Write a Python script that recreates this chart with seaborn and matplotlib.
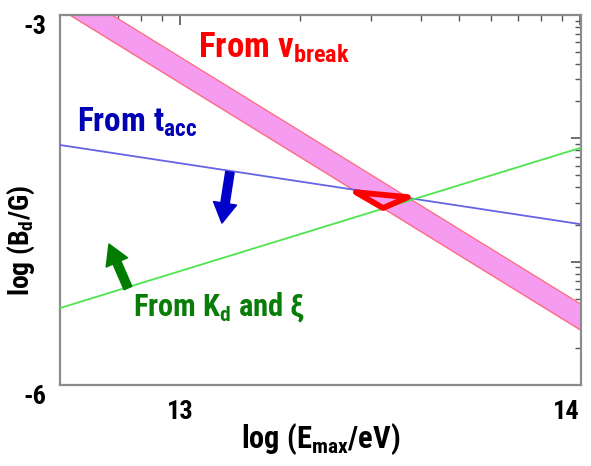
import numpy as np
import matplotlib
matplotlib.use('Agg')
import matplotlib.pyplot as plt
import matplotlib.ticker as mticker
from matplotlib import font_manager
import seaborn as sns

# values (log10 units)
log_emax = [12.7, 14.0]
log_b_tacc = [-4.054, -4.695]      # from t_acc
log_b_kd = [-5.376, -4.079]        # from K_d and xi
log_b_break_hi = [-2.74, -5.34]    # nu_break band, upper edge
log_b_break_lo = [-2.95, -5.55]    # nu_break band, lower edge

# allowed region (red triangle)
tri_log_e = [13.44, 13.57, 13.508]
tri_log_b = [-4.437, -4.477, -4.565]

# arrows: tail -> tip
arrow_tacc = [(13.125, -4.273), (13.105, -4.687)]
arrow_kd = [(12.87, -5.214), (12.8225, -4.857)]

xtick_vals = [13, 14]
ytick_vals = [-6, -5, -4, -3]
ytick_labels = ['-6', '', '', '-3']

# pick a narrow-ish font if one is around
fam = 'DejaVu Sans'
for cand in ['Liberation Sans Narrow', 'DejaVu Sans Condensed', 'Roboto Condensed',
             'Open Sans Condensed', 'Roboto', 'Lato']:
    try:
        font_manager.findfont(font_manager.FontProperties(family=cand, weight='bold'),
                              fallback_to_default=False)
        fam = cand
        break
    except Exception:
        pass

sns.set_style('white')
plt.rcParams['font.family'] = [fam, 'DejaVu Sans']
plt.rcParams['font.weight'] = 'bold'
plt.rcParams['mathtext.fontset'] = 'custom'
plt.rcParams['mathtext.rm'] = fam + ':bold'
plt.rcParams['mathtext.it'] = fam + ':bold'
plt.rcParams['mathtext.bf'] = fam + ':bold'

fig = plt.figure(figsize=(5.91, 4.66), dpi=100)
ax = fig.add_axes([0.1015, 0.1738, 0.8816, 0.794])

E = 10 ** np.array(log_emax)

# nu_break band
ax.fill_between(E, 10 ** np.array(log_b_break_lo), 10 ** np.array(log_b_break_hi),
                color='#f59cf0', zorder=1)
ax.plot(E, 10 ** np.array(log_b_break_hi), color='#ff6a6a', lw=0.8, zorder=2)
ax.plot(E, 10 ** np.array(log_b_break_lo), color='#ff6a6a', lw=0.8, zorder=2)

sns.lineplot(x=E, y=10 ** np.array(log_b_tacc), color='#6464e6', lw=1.3, ax=ax, zorder=3)
sns.lineplot(x=E, y=10 ** np.array(log_b_kd), color='#4ee64e', lw=1.3, ax=ax, zorder=3)

ax.fill(10 ** np.array(tri_log_e), 10 ** np.array(tri_log_b), facecolor='none',
        edgecolor='#ff0000', lw=4.2, joinstyle='round', zorder=4)

for (t, h), col in [(arrow_tacc, '#0000c8'), (arrow_kd, '#007d00')]:
    ax.annotate('', xy=(10 ** h[0], 10 ** h[1]), xytext=(10 ** t[0], 10 ** t[1]),
                arrowprops=dict(arrowstyle='simple,head_length=0.9,head_width=1.05,tail_width=0.38',
                                color=col, mutation_scale=16, shrinkA=0, shrinkB=0),
                zorder=5)

ax.text(10 ** 13.045, 10 ** -3.34, r'From ν$_{\rm break}$', color='#ff0000',
        fontsize=25, ha='left', va='baseline')
ax.text(10 ** 12.7425, 10 ** -3.949, r'From t$_{\rm acc}$', color='#0000b4',
        fontsize=24, ha='left', va='baseline')
ax.text(10 ** 12.8825, 10 ** -5.441, r'From K$_{\rm d}$ and ξ', color='#087d08',
        fontsize=22, ha='left', va='baseline')

ax.set_xscale('log')
ax.set_yscale('log')
ax.set_xlim(10 ** 12.7, 10 ** 14.003)
ax.set_ylim(1e-6, 1e-3)

ax.xaxis.set_major_locator(mticker.FixedLocator([10.0 ** v for v in xtick_vals]))
ax.xaxis.set_major_formatter(mticker.FixedFormatter([str(v) for v in xtick_vals]))
ax.yaxis.set_major_locator(mticker.FixedLocator([10.0 ** v for v in ytick_vals]))
ax.yaxis.set_major_formatter(mticker.FixedFormatter(ytick_labels))
ax.xaxis.set_minor_locator(mticker.LogLocator(base=10, subs=np.arange(2, 10)))
ax.yaxis.set_minor_locator(mticker.LogLocator(base=10, subs=np.arange(2, 10)))
ax.xaxis.set_minor_formatter(mticker.NullFormatter())
ax.yaxis.set_minor_formatter(mticker.NullFormatter())

ax.tick_params(which='both', direction='in', top=True, right=True, color='#555555',
               labelcolor='black')
ax.tick_params(which='major', length=7, width=1.2)
ax.tick_params(which='minor', length=4, width=1.0)
ax.tick_params(axis='x', which='major', pad=11, labelsize=19)
ax.tick_params(axis='y', which='major', pad=10, labelsize=19)
for lab in ax.get_yticklabels():
    lab.set_va('top')
ax.get_xticklabels()[-1].set_ha('right')

for s in ax.spines.values():
    s.set_color('#8c8c8c')
    s.set_linewidth(1.6)

ax.set_xlabel(r'log (E$_{\rm max}$/eV)', fontsize=22, fontweight='bold', color='black',
              va='top')
ax.set_ylabel(r'log (B$_{\rm d}$/G)', fontsize=20, fontweight='bold', color='black')
ax.xaxis.set_label_coords(0.5, -0.1)
ax.yaxis.set_label_coords(-0.045, 0.39)

fig.savefig('out.png', dpi=100)
